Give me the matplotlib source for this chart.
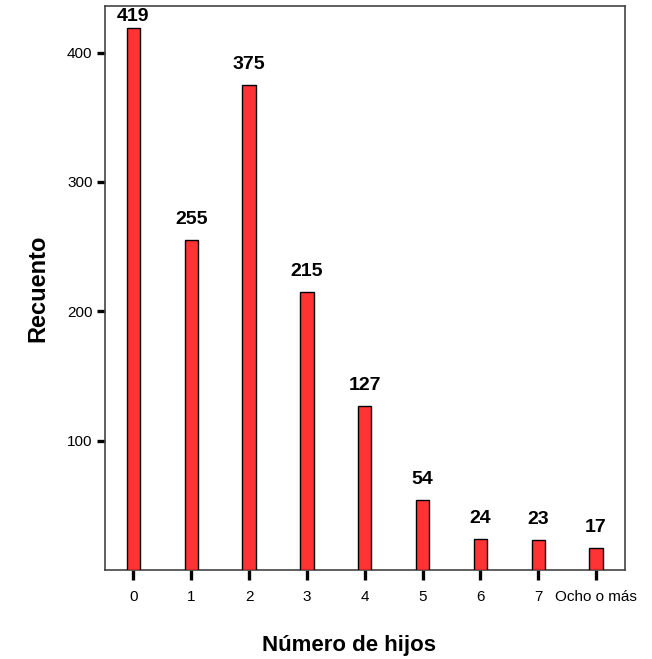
import matplotlib
matplotlib.use("Agg")
import matplotlib.pyplot as plt

categories = ["0", "1", "2", "3", "4", "5", "6", "7", "Ocho o más"]
counts = [419, 255, 375, 215, 127, 54, 24, 23, 17]
yticks = [100, 200, 300, 400]

plt.rcParams['font.family'] = ['Liberation Sans', 'DejaVu Sans']

fig = plt.figure(figsize=(6.52, 6.59), dpi=100)
ax = fig.add_axes([105/652, 1-570/659, 520/652, 564/659])

x = list(range(len(categories)))
ax.bar(x, counts, width=0.23, color='#FF3333', edgecolor='black', linewidth=1.0, zorder=3)

ymax = 436
ax.set_xlim(-0.49, 8.5)
ax.set_ylim(0, ymax)
ax.set_yticks(yticks)
ax.set_yticklabels([str(t) for t in yticks])
ax.set_xticks(x)
ax.set_xticklabels(categories)

for s in ax.spines.values():
    s.set_color('#444444')
    s.set_linewidth(1.2)

ax.tick_params(axis='x', direction='out', length=7.5, width=2.4, color='black',
               labelsize=11, pad=7)
ax.tick_params(axis='y', direction='out', length=6, width=2.4, color='black',
               labelsize=11, pad=3)

for xi, v in zip(x, counts):
    yl = min(v + 16, ymax - 8)
    ax.text(xi, yl, str(v), ha='center', va='center', fontsize=14,
            fontweight='bold', color='black')

fig.text(262/652, 1-651/659, 'Número de hijos', ha='left', va='baseline',
         fontsize=16, fontweight='bold')
fig.text(38/652, 1-288/659, 'Recuento', ha='center', va='center',
         fontsize=17, fontweight='bold', rotation=90)

fig.savefig('out.png', dpi=100)
